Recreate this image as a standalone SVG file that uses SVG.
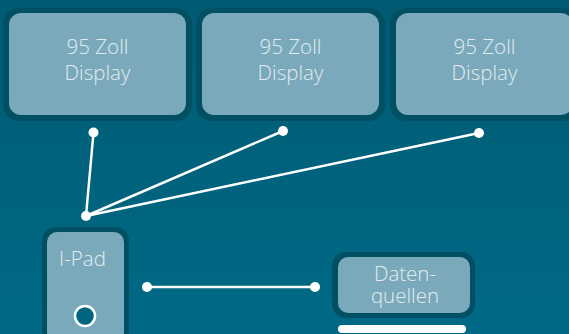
<svg xmlns="http://www.w3.org/2000/svg" width="569" height="334" viewBox="0 0 569 334">
<defs>
<linearGradient id="bg" x1="0" y1="0" x2="0" y2="1">
<stop offset="0" stop-color="#005a72"/>
<stop offset="1" stop-color="#006a86"/>
</linearGradient>
</defs>
<style>
.outer{fill:#004f63}
.inner{fill:#79a9bb}
.lbl{font-family:"Open Sans","Liberation Sans",sans-serif;font-weight:300;font-size:20.5px;fill:#e4ecef;text-anchor:middle}
.ln{stroke:#ffffff;stroke-width:2.5;fill:none}
.dot{fill:#ffffff}
</style>
<rect width="569" height="334" fill="url(#bg)"/>
<g id="display1">
<rect class="outer" x="3" y="8" width="189" height="113" rx="16"/>
<rect class="inner" x="9" y="13" width="177" height="102" rx="12"/>
<text class="lbl" x="97.5" y="54">95 Zoll</text>
<text class="lbl" x="97.5" y="80">Display</text>
</g>
<g id="display2">
<rect class="outer" x="196" y="8" width="189" height="113" rx="16"/>
<rect class="inner" x="202" y="13" width="177" height="102" rx="12"/>
<text class="lbl" x="290.5" y="54">95 Zoll</text>
<text class="lbl" x="290.5" y="80">Display</text>
</g>
<g id="display3">
<rect class="outer" x="390" y="8" width="189" height="113" rx="16"/>
<rect class="inner" x="396" y="13" width="177" height="102" rx="12"/>
<text class="lbl" x="484.5" y="54">95 Zoll</text>
<text class="lbl" x="484.5" y="80">Display</text>
</g>
<g id="connectors">
<line class="ln" x1="86" y1="216" x2="93.5" y2="132.5"/>
<line class="ln" x1="86" y1="216" x2="283" y2="131"/>
<line class="ln" x1="86" y1="216" x2="479" y2="133"/>
<line class="ln" x1="147" y1="287" x2="315" y2="287"/>
<circle class="dot" cx="93.5" cy="132.5" r="5"/>
<circle class="dot" cx="283" cy="131" r="5"/>
<circle class="dot" cx="479" cy="133" r="5"/>
<circle class="dot" cx="86" cy="216" r="5"/>
<circle class="dot" cx="147" cy="287" r="5"/>
<circle class="dot" cx="315" cy="287" r="5"/>
</g>
<g id="ipad">
<rect class="outer" x="42" y="227" width="87" height="120" rx="14"/>
<rect class="inner" x="47" y="232" width="77" height="110" rx="10"/>
<text class="lbl" x="82.5" y="266">I-Pad</text>
<circle cx="85" cy="316" r="10" fill="#006680" stroke="#ffffff" stroke-width="2.5"/>
</g>
<g id="datenquellen">
<rect class="outer" x="332" y="252" width="143" height="66" rx="14"/>
<rect class="inner" x="338" y="257" width="132" height="56" rx="10"/>
<text class="lbl" x="405" y="281">Daten-</text>
<text class="lbl" x="405" y="303">quellen</text>
<rect x="338" y="325" width="128" height="8" rx="4" fill="#ffffff"/>
</g>
</svg>
